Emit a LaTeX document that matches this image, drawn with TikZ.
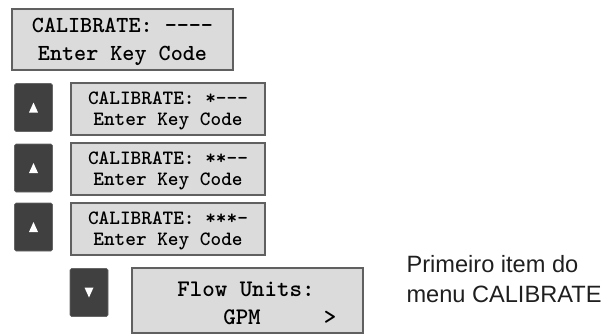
\documentclass[tikz,border=0pt]{standalone}
\usepackage{fontspec}
\setsansfont{Liberation Sans}
\newfontfamily\lcdfont{lmmonolt10-bold.otf}
\tikzset{
  lcd/.style={draw=gray!75!black, line width=1.3pt, fill=gray!28, inner sep=0pt,
    align=center, text=black},
  key/.style={draw=gray!80!black, line width=.6pt, fill=black!75, rounded corners=1.5pt,
    minimum width=38pt, minimum height=48pt, inner sep=0pt},
  tri/.style={fill=white, draw=none},
}
\begin{document}
\begin{tikzpicture}[x=1pt,y=-1pt]
\useasboundingbox (0,0) rectangle (616,335);
% LCD windows
\node (d0) at (122.5,39.5) [lcd, minimum width=221pt, minimum height=61pt, text depth=-1pt,
  font=\lcdfont\fontsize{23}{27.5}\selectfont] {CALIBRATE: ----\\Enter Key Code};
\node (d1) at (168,109) [lcd, minimum width=194pt, minimum height=52pt, text depth=-1.5pt,
  font=\lcdfont\fontsize{20.3}{21}\selectfont] {CALIBRATE: *---\\Enter Key Code};
\node (d2) at (168,169) [lcd, minimum width=194pt, minimum height=52pt, text depth=-1.5pt,
  font=\lcdfont\fontsize{20.3}{21}\selectfont] {CALIBRATE: **--\\Enter Key Code};
\node (d3) at (168,229) [lcd, minimum width=194pt, minimum height=52pt, text depth=-1.5pt,
  font=\lcdfont\fontsize{20.3}{21}\selectfont] {CALIBRATE: ***-\\Enter Key Code};
\node (d4) at (247.5,300.5) [lcd, minimum width=231pt, minimum height=65pt] {};
\node (flow) at (246,289.5) [font=\lcdfont\fontsize{23.8}{25}\selectfont] {Flow Units:};
\node (gpm) at (242,317.5) [font=\lcdfont\fontsize{23.8}{25}\selectfont] {GPM};
\node (more) at (330,317.5) [font=\lcdfont\fontsize{23.8}{25}\selectfont] {>};
% inner light edge
\foreach \d in {d0,d1,d2,d3,d4}
  \draw[white!70!gray, line width=.5pt] ([shift={(2,-2)}]\d.south west) rectangle ([shift={(-2,2)}]\d.north east);
% keys
\node (k1) at (33.5,107.5) [key] {};
\node (k2) at (33.5,168) [key] {};
\node (k3) at (33.5,227) [key] {};
\node (k4) at (89,292.5) [key] {};
\foreach \k in {k1,k2,k3}
  \fill[tri] ([shift={(-4.5,5)}]\k.center) -- ([shift={(4.5,5)}]\k.center) -- ([shift={(0,-5)}]\k.center) -- cycle;
\fill[tri] ([shift={(-4.5,-5)}]k4.center) -- ([shift={(4.5,-5)}]k4.center) -- ([shift={(0,5)}]k4.center) -- cycle;
% caption
\node (note) at (403,302) [anchor=base west, align=left, font=\sffamily\fontsize{23.6}{30}\selectfont, text=black!88]
  {Primeiro item do\\menu CALIBRATE};
\end{tikzpicture}
\end{document}
